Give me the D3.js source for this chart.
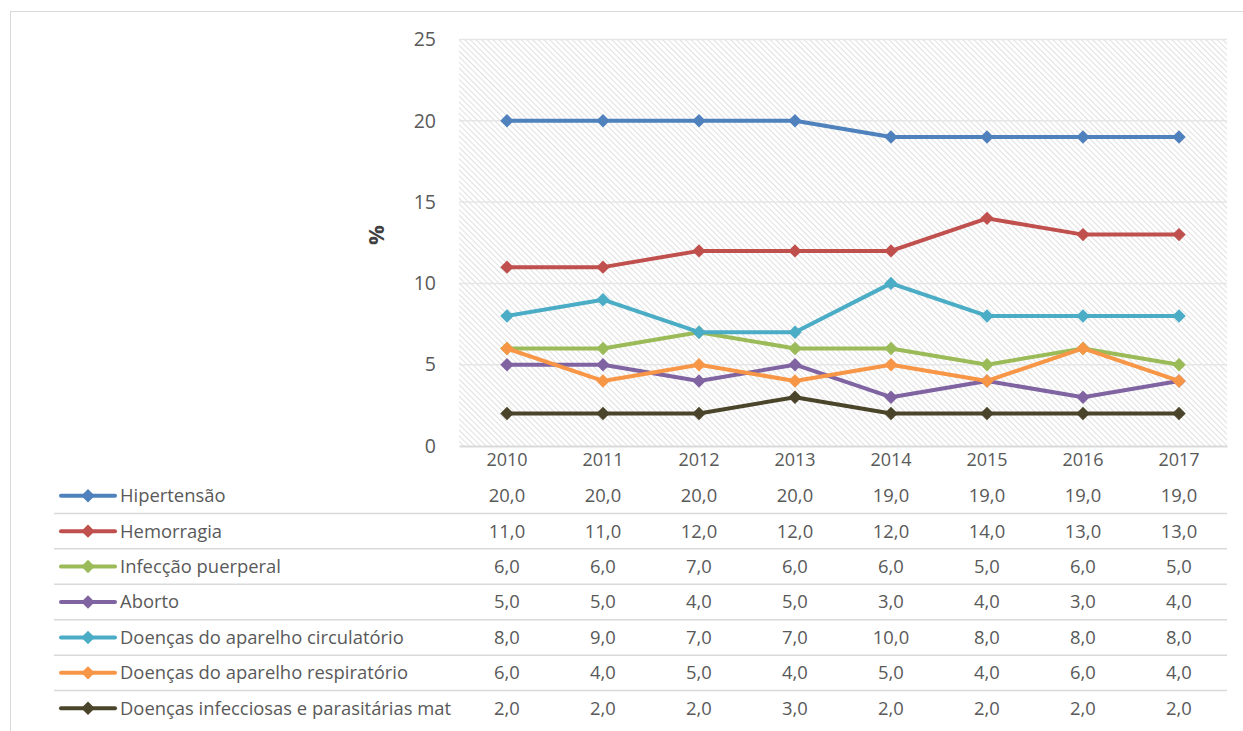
<!DOCTYPE html>
<html>
<head>
<meta charset="utf-8">
<script src="https://cdn.jsdelivr.net/npm/d3@7"></script>
<style>
  body { margin: 0; background: #fff; }
  text { font-family: "Open Sans", sans-serif; fill: #595959; }
</style>
</head>
<body>
<div id="canvas"></div>
<script>
const years = ["2010", "2011", "2012", "2013", "2014", "2015", "2016", "2017"];
const seriesNames = [
  "Hipertensão",
  "Hemorragia",
  "Infecção puerperal",
  "Aborto",
  "Doenças do aparelho circulatório",
  "Doenças do aparelho respiratório",
  "Doenças infecciosas e parasitárias mat"
];
const hipertensao  = [20, 20, 20, 20, 19, 19, 19, 19];
const hemorragia   = [11, 11, 12, 12, 12, 14, 13, 13];
const infeccao     = [6, 6, 7, 6, 6, 5, 6, 5];
const aborto       = [5, 5, 4, 5, 3, 4, 3, 4];
const circulatorio = [8, 9, 7, 7, 10, 8, 8, 8];
const respiratorio = [6, 4, 5, 4, 5, 4, 6, 4];
const infecciosas  = [2, 2, 2, 3, 2, 2, 2, 2];
const yTicks = [0, 5, 10, 15, 20, 25];
const colors = ["#4F81BD", "#C0504D", "#9BBB59", "#8064A2", "#4BACC6", "#F79646", "#4A452A"];

const series = [hipertensao, hemorragia, infeccao, aborto, circulatorio, respiratorio, infecciosas]
  .map((vals, i) => ({ name: seriesNames[i], values: vals, color: colors[i] }));

const svg = d3.select("#canvas").append("svg")
  .attr("width", 1243)
  .attr("height", 731);

// hatch pattern for plot area
const defs = svg.append("defs");
const pat = defs.append("pattern")
  .attr("id", "hatch")
  .attr("width", 4).attr("height", 4)
  .attr("patternUnits", "userSpaceOnUse")
  .attr("patternTransform", "rotate(-45)");
pat.append("rect").attr("width", 4).attr("height", 4).attr("fill", "#fff");
pat.append("line")
  .attr("x1", 0).attr("y1", 0).attr("x2", 0).attr("y2", 4)
  .attr("stroke", "#d6d6d6").attr("stroke-width", 1.5);

// chart border
svg.append("rect")
  .attr("x", 10.5).attr("y", 11.5)
  .attr("width", 1240).attr("height", 730)
  .attr("fill", "none").attr("stroke", "#d9d9d9");

const plotLeft = 459, plotRight = 1227, plotTop = 39.5, plotBottom = 446;

const x = d3.scaleBand().domain(years).range([plotLeft, plotRight]);
const y = d3.scaleLinear().domain([0, 25]).range([plotBottom, plotTop]);

svg.append("rect")
  .attr("x", plotLeft).attr("y", plotTop)
  .attr("width", plotRight - plotLeft).attr("height", plotBottom - plotTop)
  .attr("fill", "url(#hatch)");

// gridlines
svg.append("g").selectAll("line")
  .data(yTicks.filter(d => d > 0))
  .join("line")
  .attr("x1", plotLeft).attr("x2", plotRight)
  .attr("y1", d => y(d)).attr("y2", d => y(d))
  .attr("stroke", "#e6e6e6").attr("stroke-width", 1.5);

// y axis
const yAxis = d3.axisLeft(y).tickValues(yTicks).tickSize(0).tickPadding(23);
const yAxisGroup = svg.append("g").attr("transform", `translate(${plotLeft},0)`).call(yAxis);
yAxisGroup.select(".domain").remove();
yAxisGroup.selectAll("text").style("font-size", "19.5px").attr("fill", "#595959");

svg.append("text")
  .attr("transform", "translate(384,235) rotate(-90)")
  .attr("text-anchor", "middle")
  .style("font-size", "22px")
  .style("font-weight", "bold")
  .style("fill", "#404040")
  .text("%");

// x axis
const xAxis = d3.axisBottom(x).tickSize(0).tickPadding(7);
const xAxisGroup = svg.append("g").attr("transform", `translate(0,${plotBottom})`).call(xAxis);
xAxisGroup.select(".domain").attr("stroke", "#d9d9d9").attr("stroke-width", 2);
xAxisGroup.selectAll("text").style("font-size", "18px").attr("fill", "#595959");

// lines
const line = d3.line()
  .x((d, i) => x(years[i]) + x.bandwidth() / 2)
  .y(d => y(d));

const diamond = d3.symbol().type(d3.symbolDiamond2).size(115);

series.forEach(s => {
  svg.append("path")
    .attr("d", line(s.values))
    .attr("fill", "none")
    .attr("stroke", s.color)
    .attr("stroke-width", 4)
    .attr("stroke-linejoin", "round");
  svg.append("g").selectAll("path")
    .data(s.values)
    .join("path")
    .attr("d", diamond)
    .attr("transform", (d, i) => `translate(${x(years[i]) + x.bandwidth() / 2},${y(d)})`)
    .attr("fill", s.color);
});

// data table
const rows = d3.scaleBand().domain(seriesNames).range([478, 726]);

svg.append("g").selectAll("line")
  .data(seriesNames.slice(1))
  .join("line")
  .attr("x1", 54).attr("x2", plotRight)
  .attr("y1", d => rows(d)).attr("y2", d => rows(d))
  .attr("stroke", "#d9d9d9").attr("stroke-width", 1.5);

series.forEach(s => {
  const cy = rows(s.name) + rows.bandwidth() / 2;
  const g = svg.append("g");
  g.append("line")
    .attr("x1", 61).attr("x2", 115)
    .attr("y1", cy).attr("y2", cy)
    .attr("stroke", s.color).attr("stroke-width", 4)
    .attr("stroke-linecap", "round");
  g.append("path")
    .attr("d", diamond)
    .attr("transform", `translate(88,${cy})`)
    .attr("fill", s.color);
  g.append("text")
    .attr("x", 120).attr("y", cy)
    .attr("dy", "0.35em")
    .style("font-size", "18.4px")
    .text(s.name);
  g.selectAll("text.val")
    .data(s.values)
    .join("text")
    .attr("class", "val")
    .attr("x", (d, i) => x(years[i]) + x.bandwidth() / 2)
    .attr("y", cy)
    .attr("dy", "0.35em")
    .attr("text-anchor", "middle")
    .style("font-size", "18.4px")
    .text(d => d.toFixed(1).replace(".", ","));
});
</script>
</body>
</html>
